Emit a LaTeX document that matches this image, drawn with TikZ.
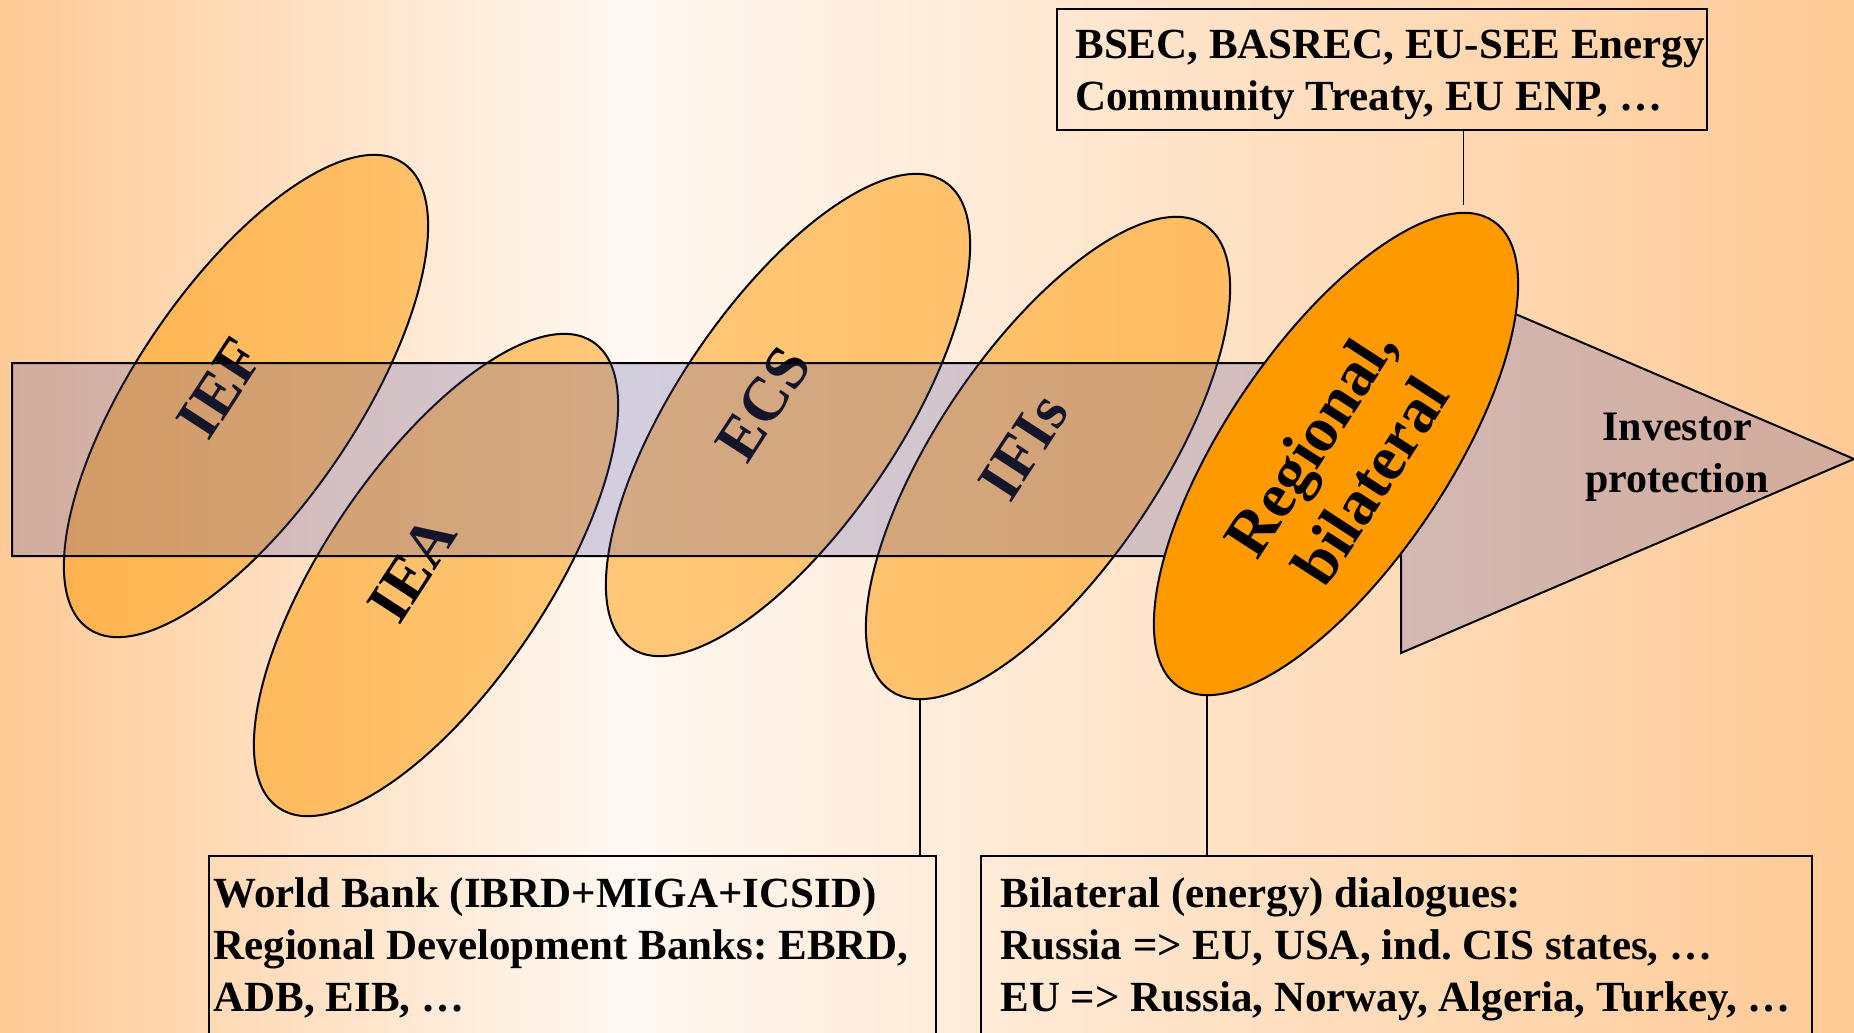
\documentclass[tikz,border=0pt]{standalone}
\usepackage{fontspec}
\setmainfont{Liberation Serif}
\newfontfamily\labelfont{Liberation Serif}
\usetikzlibrary{shapes.geometric}
\definecolor{peach}{RGB}{255,202,150}
\definecolor{bgwhite}{RGB}{255,248,242}
\definecolor{orng}{RGB}{255,153,0}
\definecolor{barcol}{RGB}{80,82,169}
\frenchspacing
\begin{document}
\begin{tikzpicture}[x=0.5pt,y=-0.5pt,
  oval/.style={ellipse, draw=black, line width=1pt, fill=orng, fill opacity=0.5,
    minimum width=281pt, minimum height=111pt, inner sep=0pt, rotate=56},
  ovallabel/.style={font=\labelfont\fontsize{31}{35}\selectfont\bfseries,
    rotate=57, align=center, inner sep=0pt},
  infobox/.style={draw=black, line width=0.8pt, anchor=north west, inner sep=0pt},
  infotext/.style={font=\fontsize{21.5}{26}\selectfont\bfseries, align=left,
    inner sep=0pt, anchor=north west},
  link/.style={draw=black, line width=0.8pt}]
\path[use as bounding box] (0,0) rectangle (1854,1033);
\clip (0,0) rectangle (1854,1033);
% background
\shade[left color=peach, right color=bgwhite] (0,0) rectangle (622,1033);
\shade[left color=bgwhite, right color=peach] (620,0) rectangle (1854,1033);
% translucent ellipses
\node[oval] (ief) at (246,396) {};
\node[oval] (iea) at (436,575) {};
\node[oval] (ecs) at (788,415) {};
\node[oval] (ifis) at (1048,458) {};
\node[ovallabel] (ieflab) at (220,388) {IEF};
\node[ovallabel] (iealab) at (412,569) {IEA};
\node[ovallabel] (ecslab) at (763,404) {ECS};
\node[ovallabel] (ifislab) at (1024,447) {IFIs};
% arrow
\draw[fill=barcol, fill opacity=0.25, line width=1pt]
  (12,363) -- (1401,363) -- (1401,265) -- (1854,459) -- (1401,653) -- (1401,556) -- (12,556) -- cycle;
% regional ellipse
\node[oval, fill opacity=1] (reg) at (1336,454) {};
\node[ovallabel, font=\labelfont\fontsize{32}{36}\selectfont\bfseries] (reglab) at (1340,461) {Regional,\\bilateral};
\node[font=\fontsize{21}{26}\selectfont\bfseries, align=center, inner sep=0pt] (inv) at (1677,457) {Investor\\protection};
% boxes
\node[infobox, minimum width=325pt, minimum height=60.5pt] (topbox) at (1056,8) {};
\node[infotext] (toptext) at (1075,30) {BSEC, BASREC, EU-SEE Energy\\Community Treaty, EU ENP, …};
\node[infobox, minimum width=363.5pt, minimum height=120pt] (wbbox) at (208,855) {};
\node[infotext] (wbtext) at (213,877) {World Bank (IBRD+MIGA+ICSID)\\Regional Development Banks: EBRD,\\ADB, EIB, …};
\node[infobox, minimum width=415.5pt, minimum height=120pt] (bdbox) at (980,855) {};
\node[infotext] (bdtext) at (1000,877) {Bilateral (energy) dialogues:\\Russia => EU, USA, ind. CIS states, …\\EU => Russia, Norway, Algeria, Turkey, …};
% connectors
\coordinate (regtop) at (1463.5,205);
\coordinate (ifisbot) at (920,700);
\coordinate (regbot) at (1207,696);
\draw[link] (topbox.south -| regtop) -- (regtop);
\draw[link] (ifisbot) -- (ifisbot |- wbbox.north);
\draw[link] (regbot) -- (regbot |- bdbox.north);
\end{tikzpicture}
\end{document}
